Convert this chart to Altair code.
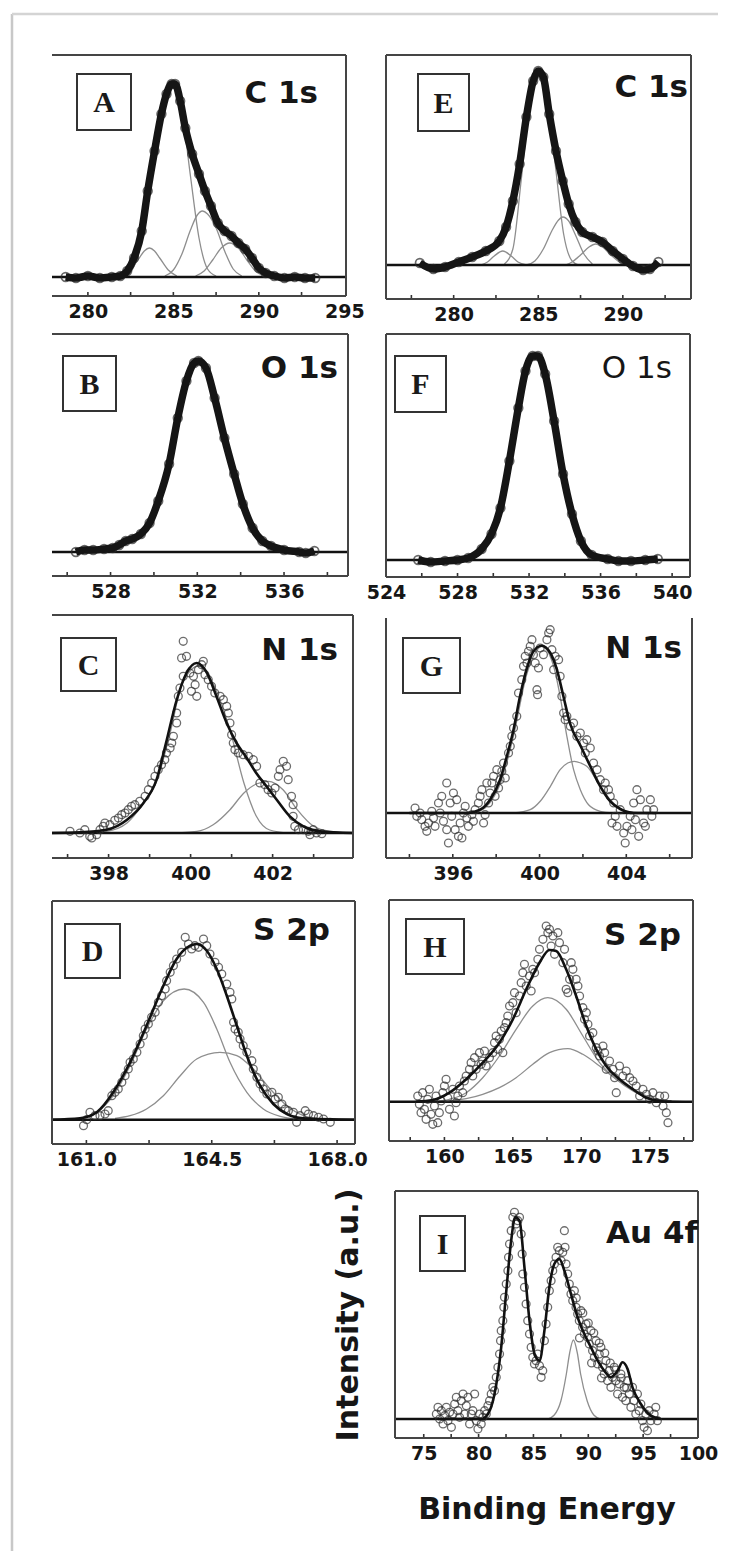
import altair as alt
import pandas as pd

# ---------------- data (energy in eV, intensity in a.u.) ----------------
A_data = [(278.7,19),(279.3,18),(280.0,20),(280.7,18),(281.4,19),(281.9,20),(282.3,25),(282.7,38),(283.15,65),(283.5,105),
          (283.9,145),(284.3,182),(284.6,202),(284.9,212),(285.1,212),(285.4,195),(285.7,168),(286.1,142),(286.5,122),(286.85,105),
          (287.2,90),(287.6,73),(288.0,65),(288.4,60),(288.8,53),(289.2,47),(289.6,38),(290.0,28),(290.4,23),(290.9,20),
          (291.5,18),(292.1,19),(292.7,18),(293.3,18)]
A_comps = [
    [(282.0,20),(282.5,26),(283.0,38),(283.3,45),(283.6,48),(283.9,45),(284.2,38),(284.7,26),(285.2,20)],
    [(282.0,19),(282.5,24),(283.0,45),(283.5,90),(284.0,150),(284.5,198),(285.0,212),(285.5,185),(286.0,120),(286.5,58),(287.0,27),(287.5,20)],
    [(284.5,20),(285.0,26),(285.5,42),(286.0,66),(286.4,81),(286.7,85),(287.0,82),(287.5,68),(288.0,45),(288.5,27),(289.0,20)],
    [(286.3,20),(286.8,25),(287.3,36),(287.8,48),(288.3,53),(288.8,48),(289.3,36),(289.8,25),(290.3,20)],
]

E_data = [(278.0,36),(278.8,30),(279.5,32),(280.3,37),(281.1,42),(281.9,48),(282.7,58),(283.1,72),(283.5,98),(283.9,135),
          (284.3,182),(284.7,218),(285.0,228),(285.3,222),(285.65,185),(286.05,148),(286.45,118),(286.8,95),(287.2,77),(287.6,67),
          (288.2,62),(288.8,57),(289.4,48),(290.0,40),(290.6,33),(291.2,29),(291.6,30),(292.1,37)]
E_comps = [
    [(281.6,34),(282.0,37),(282.4,43),(282.9,48),(283.4,43),(283.8,37),(284.3,34)],
    [(283.0,35),(283.5,50),(284.0,120),(284.5,195),(285.0,228),(285.5,200),(286.0,135),(286.5,65),(287.0,38),(287.4,34)],
    [(284.3,34),(284.8,38),(285.3,50),(285.8,68),(286.2,79),(286.45,82),(286.8,78),(287.2,64),(287.7,45),(288.2,35)],
    [(286.6,34),(287.0,37),(287.5,44),(288.0,52),(288.4,55),(288.8,52),(289.3,44),(289.8,37),(290.4,34)],
]

B_data = [(526.4,24),(526.8,26),(527.2,26),(527.7,27),(528.1,28),(528.4,31),(528.7,35),(529.0,37),(529.4,42),(529.8,53),
          (530.2,75),(530.7,112),(531.1,158),(531.5,195),(531.85,213),(532.05,215),(532.4,208),(532.8,178),(533.25,138),(533.7,102),
          (534.1,72),(534.55,48),(535.0,35),(535.4,30),(536.0,26),(536.7,24),(537.0,23),(537.4,25)]

F_data = [(525.8,17),(526.5,15),(527.3,16),(528.0,17),(528.6,19),(529.35,28),(529.9,43),(530.4,69),(530.9,116),(531.4,169),
          (531.8,206),(532.2,221),(532.5,221),(532.9,203),(533.4,156),(533.9,103),(534.4,63),(534.9,36),(535.5,22),(536.4,18),
          (537.0,16),(537.7,16),(538.5,17),(539.2,18)]

C_fit = [(396.62,25),(397.3,25.7),(397.95,28.3),(398.45,38.3),(398.85,55),(399.17,78.3),(399.4,115),(399.66,158),(399.9,185),(400.15,195),
         (400.4,185),(400.63,161.7),(400.88,135),(401.12,115),(401.37,100),(401.6,85),(401.85,71.7),(402.1,58.3),(402.42,41.7),(402.75,31.7),
         (403.15,26.7),(403.96,25)]
C_comps = [
    [(397.3,25),(397.95,26.7),(398.45,35),(398.85,55),(399.2,80),(399.5,125),(399.8,175),(400.2,192),(400.5,178),(400.96,128),(401.3,75),(401.6,42),(401.93,28),(402.4,25)],
    [(399.5,25),(400.15,26.7),(400.55,33.3),(400.96,48.3),(401.3,65),(401.6,74),(401.9,76.7),(402.26,68),(402.6,48.3),(403.0,31.7),(403.4,26.7),(403.96,25)],
]
C_data = [(397.06,26.7),(397.30,25),(397.42,28.3),(397.54,21.7),(397.59,20),(397.71,23.3),(397.79,28.3),(397.87,31.7),(397.91,35),(398.03,33.3),
          (398.15,37.7),(398.24,40),(398.32,43.3),(398.40,45),(398.48,48.3),(398.56,51.7),(398.64,53.3),(398.76,56.7),(398.89,61.7),(398.97,68.3),
          (399.05,75),(399.13,81.7),(399.21,88.3),(399.29,93.3),(399.37,98.3),(399.41,105),(399.50,110),(399.54,115),(399.58,121.7),(399.66,135),
          (399.66,145),(399.70,161.7),(399.74,170),(399.82,181.7),(399.78,200),(399.82,216.7),(399.90,201.7),(399.98,185),(400.07,181.7),(400.11,173.3),
          (400.02,166.7),(400.15,161.7),(400.19,188.3),(400.27,193.3),(400.31,196.7),(400.35,183.3),(400.43,178.3),(400.51,171.7),(400.59,165),(400.72,161.7),
          (400.80,158.3),(400.88,151.7),(400.92,145),(400.96,135),(401.00,123.3),(401.04,115),(401.08,108.3),(401.16,105),(401.28,103.3),(401.41,101.7),
          (401.53,98.3),(401.61,91.7),(401.69,75),(401.81,73.3),(401.89,68.3),(401.98,65),(402.06,70),(402.14,81.7),(402.18,88.3),(402.26,96.7),
          (402.34,91.7),(402.38,78.3),(402.46,61.7),(402.50,53.3),(402.50,41.7),(402.54,31.7),(402.63,28.3),(402.75,28.3),(402.87,26.7),(402.99,28.3),
          (403.07,25),(403.20,24.3),(402.91,23.3)]

G_fit = [(394.0,45),(396.65,45),(397.26,48.3),(397.72,58.3),(398.18,78.3),(398.49,101.7),(398.8,128.3),(399.1,161.7),(399.42,190),(399.72,206.7),
         (400.1,212.3),(400.5,205),(400.8,188.3),(401.1,161.7),(401.4,135),(401.9,111.7),(402.34,91.7),(402.8,71.7),(403.26,56.7),(403.72,49),
         (404.34,45),(405.4,45)]
G_comps = [
    [(397.0,45),(397.7,55),(398.2,75),(398.8,122),(399.4,183),(399.8,205),(400.1,211.7),(400.65,191.7),(400.95,161.7),(401.26,121.7),(401.57,88.3),(401.88,68.3),(402.26,53.3),(402.8,46.7),(403.4,45)],
    [(398.8,45),(399.57,48.3),(400.03,56.7),(400.5,71.7),(400.95,88.3),(401.3,95),(401.6,96.7),(401.9,95),(402.18,91.7),(402.8,71.7),(403.4,55),(404.0,46.7),(404.8,45)],
]
G_data = [(394.26,50),(394.34,41.7),(394.49,45),(394.57,38.3),(394.72,31.7),(394.80,26.7),(394.88,35),(395.03,46.7),(395.11,40),(395.18,31.7),
          (395.34,55),(395.42,45),(395.49,61.7),(395.57,36.7),(395.72,75),(395.72,28.3),(395.80,15),(395.88,55),(395.95,41.7),(396.03,65),
          (396.11,28.3),(396.18,58.3),(396.26,21.7),(396.34,35),(396.42,20),(396.49,45),(396.57,51.7),(396.65,40),(396.72,31.7),(396.88,43.3),
          (396.95,36.7),(397.03,48.3),(397.18,55),(397.26,61.7),(397.34,68.3),(397.42,35),(397.49,43.3),(397.57,75),(397.65,55),(397.72,65),
          (397.80,75),(397.88,81.7),(397.95,61.7),(398.03,88.3),(398.11,70),(398.18,78.3),(398.26,86.7),(398.34,95),(398.42,80),(398.57,105),
          (398.65,111.7),(398.72,121.7),(398.80,130),(398.95,141.7),(399.03,165),(399.18,178.3),(399.26,191.7),(399.34,201.7),(399.42,195),(399.49,206.7),
          (399.57,211.7),(399.65,218.3),(399.72,203.3),(399.80,195),(399.88,168.3),(399.91,163.3),(399.95,190),(400.03,210),(400.18,203.3),(400.34,218.3),
          (400.42,225),(400.49,228.3),(400.57,208.3),(400.65,188.3),(400.72,201.7),(400.88,198.3),(400.95,181.7),(401.03,161.7),(401.11,145),(401.18,138.3),
          (401.26,141.7),(401.42,131.7),(401.57,135),(401.72,121.7),(401.88,125),(402.03,115),(402.11,105),(402.18,118.3),(402.34,110),(402.49,95),
          (402.65,88.3),(402.80,78.3),(402.95,68.3),(403.03,75),(403.18,68.3),(403.26,61.7),(403.42,55),(403.34,35),(403.49,41.7),(403.57,31.7),
          (403.72,48.3),(403.88,25),(403.95,15),(404.03,31.7),(404.18,41.7),(404.26,28.3),(404.34,55),(404.42,38.3),(404.49,68.3),(404.57,21.7),
          (404.65,58.3),(404.80,35),(404.88,31.7),(404.95,48.3),(405.11,58.3),(405.18,41.7),(405.26,48.3)]

D_fit = [(160.04,24.3),(160.82,25.7),(161.29,31.7),(161.75,51.7),(162.22,81.7),(162.68,118.3),(163.15,158.3),(163.52,185),(163.9,198.3),(164.08,200),
         (164.36,193.3),(164.64,175),(164.92,148.3),(165.2,118.3),(165.48,88.3),(165.85,58.3),(166.22,40),(166.6,30),(167.06,25.7),(168.5,24.3)]
D_comps = [
    [(160.8,25.7),(161.29,31.7),(161.75,48.3),(162.22,78.3),(162.68,115),(163.15,143.3),(163.73,155),(164.27,141.7),(164.64,115),(165.01,81.7),(165.48,51.7),(165.94,35),(166.41,27.7),(166.9,25)],
    [(161.8,25.7),(162.22,28.3),(162.68,35),(163.15,48.3),(163.62,68.3),(164.08,85),(164.73,91.7),(165.2,88.3),(165.66,75),(166.13,55),(166.6,38.3),(167.06,28.3),(167.5,25)],
]
D_data = [(160.92,18.3),(161.01,24.3),(161.10,31.7),(161.24,28.3),(161.38,28.3),(161.52,30),(161.61,33.3),(161.71,48.3),(161.80,51.7),(161.89,55),
          (161.99,61.7),(162.08,68.3),(162.17,75),(162.22,81.7),(162.31,85),(162.41,91.7),(162.50,100),(162.59,108.3),(162.64,115),(162.73,120),
          (162.82,126.7),(162.92,131.7),(163.01,141.7),(163.10,148.3),(163.20,155),(163.24,163.3),(163.34,171.7),(163.43,178.3),(163.52,185),(163.66,191.7),
          (163.76,206.7),(163.85,200),(163.94,195),(164.03,198.3),(164.13,196.7),(164.27,205),(164.36,198.3),(164.45,190),(164.59,181.7),(164.69,176.7),
          (164.78,170),(164.92,160),(165.01,151.7),(165.06,145),(165.11,121.7),(165.15,115),(165.24,111.7),(165.29,105),(165.38,98.3),(165.48,91.7),
          (165.62,83.3),(165.66,75),(165.76,66.7),(165.85,60),(165.94,55),(166.04,50),(166.18,51.7),(166.27,45),(166.36,46.7),(166.46,40),
          (166.55,35),(166.64,33.3),(166.78,31.7),(166.87,21.7),(166.97,28.3),(167.11,33.3),(167.20,30),(167.34,28.3),(167.48,26.7),(167.62,25),
          (167.81,21.7)]

H_fit = [(157.9,39.3),(159.15,41),(160.37,48.3),(161.59,61.7),(162.8,78.3),(164.02,98.3),(165.0,121.7),(165.98,151.7),(166.95,178.3),(167.68,191),
         (168.17,190),(168.9,171.7),(169.63,145),(170.37,115),(171.1,91.7),(171.83,75),(172.8,61.7),(173.78,51.7),(174.76,43.3),(175.73,40),
         (176.6,39.3)]
H_comps = [
    [(159.15,39.3),(160.37,41.7),(161.59,48.3),(162.8,63.3),(164.02,85),(165.24,111.7),(166.46,135),(167.56,143.3),(168.9,131.7),(170.12,105),(171.34,78.3),(172.56,61.7),(173.78,50),(175.0,42.3),(176.22,40),(177.4,39.3)],
    [(159.15,39.3),(160.37,40),(161.59,42.3),(162.8,46.7),(164.02,53.3),(165.24,63.3),(166.46,76.7),(167.68,88.3),(169.02,92.3),(170.12,86.7),(171.34,75),(172.56,61.7),(173.78,51.7),(175.0,44),(176.22,40.7),(177.6,39.3)],
]
H_data = [(158.05,45),(158.17,36.7),(158.29,28.3),(158.41,48.3),(158.54,31.7),(158.66,21.7),(158.78,41.7),(158.90,51.7),(159.02,26.7),(159.15,16.7),
          (159.27,35),(159.39,45),(159.51,18.3),(159.63,28.3),(159.76,40),(159.88,48.3),(160.00,55),(160.12,61.7),(160.24,43.3),(160.37,31.7),
          (160.61,51.7),(160.73,25),(160.85,38.3),(160.98,45),(161.10,55),(161.34,48.3),(161.46,60),(161.59,65),(161.83,71.7),(161.95,78.3),
          (162.07,65),(162.20,83.3),(162.32,71.7),(162.56,88.3),(162.68,76.7),(162.80,80),(162.93,90),(163.05,75),(163.29,83.3),(163.54,88.3),
          (163.66,98.3),(163.78,105),(163.90,91.7),(164.02,101.7),(164.15,110),(164.27,88.3),(164.39,113.3),(164.51,118.3),(164.63,125),(164.76,135),
          (165.00,138.3),(165.12,148.3),(165.24,128.3),(165.49,145),(165.61,158.3),(165.73,168.3),(165.85,176.7),(165.98,155),(166.22,165),(166.34,150),
          (166.46,171.7),(166.59,168.3),(166.83,181.7),(166.95,191.7),(167.20,201.7),(167.44,215),(167.56,208.3),(167.68,211.7),(167.80,195),(167.93,205),
          (168.05,186.7),(168.29,208.3),(168.41,198.3),(168.66,178.3),(168.78,191.7),(168.90,151.7),(169.02,148.3),(169.15,161.7),(169.27,178.3),(169.39,171.7),
          (169.63,161.7),(169.76,155),(169.88,145),(170.12,133.3),(170.24,121.7),(170.37,128.3),(170.49,116.7),(170.61,105),(170.85,108.3),(171.10,93.3),
          (171.22,90),(171.34,85),(171.59,95),(171.71,88.3),(171.83,71.7),(172.07,80),(172.32,71.7),(172.44,63.3),(172.56,48.3),(172.80,75),
          (173.05,65),(173.29,70),(173.54,63.3),(173.78,60),(174.02,55),(174.27,45),(174.51,51.7),(174.76,46.7),(175.00,41.7),(175.24,48.3),
          (175.49,38.3),(175.73,45),(175.98,35),(176.10,45),(176.22,28.3),(176.34,18.3)]

I_fit = [(76.3,19),(80.24,19),(80.85,24),(81.45,44),(82.06,90.7),(82.5,144),(82.97,197.3),(83.33,220.7),(83.73,217.3),(84.18,170.7),
         (84.64,117.3),(85.1,84),(85.55,77.3),(86.0,107.3),(86.45,150.7),(86.9,174),(87.36,179),(87.82,167.3),(88.42,144),(89.03,120.7),
         (89.64,104),(90.24,90.7),(90.85,77.3),(91.45,67.3),(92.06,60.7),(92.67,67.3),(93.12,75.7),(93.58,69),(94.03,50.7),(94.79,34),
         (95.7,22.3),(96.6,19)]
I_comps = [
    [(86.3,19),(86.9,23),(87.5,37),(88.0,64),(88.3,85),(88.64,98),(89.0,85),(89.3,64),(89.9,37),(90.5,23),(91.1,19)],
]
I_data = [(76.15,24),(76.30,30.7),(76.45,19),(76.61,27.3),(76.76,14),(76.91,22.3),(77.06,30.7),(77.21,17.3),(77.36,25.7),(77.52,10.7),
          (77.67,24),(77.82,34),(77.97,40.7),(78.12,27.3),(78.27,20.7),(78.42,37.3),(78.58,44),(78.73,24),(78.88,32.3),(79.03,40.7),
          (79.18,14),(79.33,24),(79.48,27.3),(79.64,44),(79.79,17.3),(79.94,9),(80.09,24),(80.24,14),(80.39,20.7),(80.55,27.3),
          (80.70,24),(80.85,32.3),(81.00,37.3),(81.15,44),(81.30,50.7),(81.45,47.3),(81.61,60.7),(81.76,70.7),(81.91,84),(82.00,97.3),
          (82.06,107.3),(82.21,117.3),(82.30,130.7),(82.36,140.7),(82.52,154),(82.67,167.3),(82.73,180.7),(82.82,194),(82.97,207.3),(83.12,220.7),
          (83.27,225.7),(83.42,214),(83.58,217.3),(83.73,220.7),(83.88,204),(83.97,184),(84.03,164),(84.18,150.7),(84.33,134),(84.48,117.3),
          (84.64,104),(84.79,90.7),(84.94,80.7),(85.09,74),(85.24,77.3),(85.39,84),(85.55,72.3),(85.70,60.7),(85.85,67.3),(86.00,97.3),
          (86.15,114),(86.30,130.7),(86.45,147.3),(86.61,157.3),(86.76,167.3),(86.91,174),(87.06,180.7),(87.21,190.7),(87.36,187.3),(87.52,177.3),
          (87.67,185.7),(87.82,207.3),(87.88,190.7),(87.97,174),(88.12,164),(88.27,154),(88.42,144),(88.58,137.3),(88.73,147.3),(88.88,130.7),
          (89.03,124),(89.18,117.3),(89.33,127.3),(89.48,110.7),(89.64,104),(89.79,114),(89.94,100.7),(90.09,94),(90.24,107.3),(90.39,87.3),
          (90.55,80.7),(90.70,97.3),(90.85,74),(91.00,84),(91.15,90.7),(91.30,70.7),(91.45,64),(91.61,77.3),(91.76,57.3),(91.91,67.3),
          (92.06,50.7),(92.21,60.7),(92.36,70.7),(92.52,57.3),(92.67,44),(92.82,54),(92.97,64),(93.12,40.7),(93.27,50.7),(93.42,37.3),
          (93.58,57.3),(93.73,44),(93.88,30.7),(94.03,50.7),(94.18,37.3),(94.33,24),(94.48,44),(94.64,27.3),(94.79,34),(94.94,17.3),
          (95.09,10.7),(95.24,24),(95.39,7.3),(95.55,27.3),(95.70,17.3),(96.00,24),(96.15,30.7),(96.30,17.3),
          (88.9,140),(89.5,125),(90.0,115),(90.5,105),(91.0,95),(91.5,85),(92.0,75),(92.5,68),(93.0,60),(93.5,50),(89.2,100),(90.3,75),(91.2,60)]

# axis tick labels and inward tick positions
A_labels, A_ticks = [280, 285, 290, 295], [280, 282.5, 285, 287.5, 290, 292.5]
E_labels, E_ticks = [280, 285, 290], [277.5, 280, 282.5, 285, 287.5, 290, 292.5]
B_labels, B_ticks = [528, 532, 536], [526, 528, 530, 532, 534, 536, 538]
F_labels, F_ticks = [524, 528, 532, 536, 540], [526, 528, 530, 532, 534, 536, 538, 540]
C_labels, C_ticks = [398, 400, 402, 404], [397, 398, 399, 400, 401, 402, 403]
G_labels, G_ticks = [396, 400, 404], [394, 396, 398, 400, 402, 404, 406]
D_labels, D_ticks = [161.0, 164.5, 168.0], [161.0, 162.75, 164.5, 166.25, 168.0]
H_labels, H_ticks = [160, 165, 170, 175], [157.5, 160, 162.5, 165, 167.5, 170, 172.5, 175, 177.5]
I_labels, I_ticks = [75, 80, 85, 90, 95, 100], [75, 77.5, 80, 82.5, 85, 87.5, 90, 92.5, 95, 97.5]

SANS = "DejaVu Sans"
INK = "#161616"
FRAME = "#454545"

PANELS = {
    "A": dict(data=A_data, fit=None, comps=A_comps, band=True, base=19, xdom=[277.9, 295.1], w=294, h=241, off=0,
              labels=A_labels, ticks=A_ticks, fmt="d", sides=["top", "right", "bottom"], top0=0,
              box=(25, 19, 79, 75), title="C 1s", tpos=(266, 39), tweight="bold"),
    "E": dict(data=E_data, fit=None, comps=E_comps, band=True, base=34, xdom=[276.0, 294.03], w=305, h=244, off=0,
              labels=E_labels, ticks=E_ticks, fmt="d", sides=["top", "right", "bottom", "left"], top0=0,
              box=(32, 19, 83, 76), title="C 1s", tpos=(302, 33), tweight="bold"),
    "B": dict(data=B_data, fit=None, comps=[], band=True, base=24, xdom=[525.3, 538.95], w=296, h=242, off=0,
              labels=B_labels, ticks=B_ticks, fmt="d", sides=["top", "right", "bottom"], top0=0,
              box=(11, 22, 64, 77), title="O 1s", tpos=(286, 35), tweight="bold"),
    "F": dict(data=F_data, fit=None, comps=[], band=True, base=17, xdom=[524, 541], w=304, h=243, off=0,
              labels=F_labels, ticks=F_ticks, fmt="d", sides=["top", "right", "bottom", "left"], top0=0,
              box=(9, 22, 60, 78), title="O 1s", tpos=(286, 35), tweight="normal"),
    "C": dict(data=C_data, fit=C_fit, comps=C_comps, band=False, base=25, xdom=[396.62, 403.96], w=301, h=243, off=0,
              labels=C_labels, ticks=C_ticks, fmt="d", sides=["top", "right", "bottom"], top0=0,
              box=(9, 23, 64, 76), title="N 1s", tpos=(286, 36), tweight="bold"),
    "G": dict(data=G_data, fit=G_fit, comps=G_comps, band=False, base=45, xdom=[392.92, 407.03], w=306, h=243, off=0,
              labels=G_labels, ticks=G_ticks, fmt="d", sides=["right", "bottom", "left"], top0=3,
              box=(17, 23, 74, 78), title="N 1s", tpos=(296, 34), tweight="bold"),
    "D": dict(data=D_data, fit=D_fit, comps=D_comps, band=False, base=24.3, xdom=[160.04, 168.5], w=303, h=244, off=0,
              labels=D_labels, ticks=D_ticks, fmt=".1f", sides=["top", "right", "bottom", "left"], top0=1,
              box=(13, 24, 68, 78), title="S 2p", tpos=(278, 31), tweight="bold"),
    "H": dict(data=H_data, fit=H_fit, comps=H_comps, band=False, base=39.3, xdom=[155.73, 178.17], w=307, h=241, off=3,
              labels=H_labels, ticks=H_ticks, fmt="d", sides=["top", "right", "bottom", "left"], top0=0,
              box=(17, 19, 75, 74), title="S 2p", tpos=(292, 36), tweight="bold"),
    "I": dict(data=I_data, fit=I_fit, comps=I_comps, band=False, base=19, xdom=[71.56, 100], w=312, h=247, off=9,
              labels=I_labels, ticks=I_ticks, fmt="d", sides=["top", "right", "bottom", "left"], top0=0,
              box=(25, 25, 70, 80), title="Au 4f", tpos=(303, 43), tweight="bold",
              xtitle="Binding Energy", ytitle="Intensity (a.u.)"),
}


def pairs_df(pairs, extra=None):
    df = pd.DataFrame(pairs, columns=["x", "y"])
    if extra:
        for k, v in extra.items():
            df[k] = v
    return df


def build(letter, p, outer_frame=False):
    w, h, off = p["w"], p["h"], p["off"]
    xs = alt.Scale(domain=p["xdom"], nice=False, zero=False)
    ys = alt.Scale(domain=[0, h], nice=False, zero=False)
    ax = dict(values=p["labels"], format=p["fmt"], domain=False, ticks=False, grid=False,
              labelFlush=False, labelOverlap=False, labelPadding=6, labelFont=SANS,
              labelFontWeight="bold", labelFontSize=19, labelColor=INK)
    if p.get("xtitle"):
        xaxis = alt.Axis(title=p["xtitle"], titleFont=SANS, titleFontWeight="bold", titleFontSize=30,
                         titleColor=INK, titleX=off + (w - off) / 2, titleY=71, titleBaseline="middle", **ax)
    else:
        xaxis = alt.Axis(title=None, **ax)
    X = alt.X("x:Q", scale=xs, axis=xaxis)
    if p.get("ytitle"):
        Y = alt.Y("y:Q", scale=ys, axis=alt.Axis(title=p["ytitle"], labels=False, ticks=False, domain=False,
                                                grid=False, titleFont=SANS, titleFontWeight="bold",
                                                titleFontSize=30, titleColor=INK, titleX=-38,
                                                titleY=h / 2, titleBaseline="middle"))
    else:
        Y = alt.Y("y:Q", scale=ys, axis=None)

    one = pd.DataFrame({"k": [0]})
    layers = []

    # fitted component peaks (thin grey)
    if p["comps"]:
        comp_df = pd.concat([pairs_df(c, {"c": i}) for i, c in enumerate(p["comps"])], ignore_index=True)
        layers.append(alt.Chart(comp_df).mark_line(color="#8e8e8e", strokeWidth=1.3, interpolate="monotone")
                      .encode(x=X, y=Y, detail="c:N"))
    # baseline
    layers.append(alt.Chart(pd.DataFrame({"y": [p["base"]]})).mark_rule(color="#111", strokeWidth=2.6)
                  .encode(y=Y, x=alt.value(off), x2=alt.value(w)))
    data_df = pairs_df(p["data"])
    if p["band"]:
        layers.append(alt.Chart(data_df).mark_point(shape="circle", filled=False, size=75, color="#2a2a2a",
                                                    strokeWidth=1.7).encode(x=X, y=Y))
        layers.append(alt.Chart(data_df).mark_line(color="#151515", strokeWidth=7.5, interpolate="monotone")
                      .encode(x=X, y=Y))
    else:
        layers.append(alt.Chart(data_df).mark_point(shape="circle", filled=False, size=62, color="#303030",
                                                    strokeWidth=1.3).encode(x=X, y=Y))
        layers.append(alt.Chart(pairs_df(p["fit"])).mark_line(color="#111", strokeWidth=2.6, interpolate="monotone")
                      .encode(x=X, y=Y))
    # inward ticks
    layers.append(alt.Chart(pd.DataFrame({"x": p["ticks"]})).mark_rule(color="#333", strokeWidth=1.6)
                  .encode(x=X, y=alt.value(h - 4), y2=alt.value(h)))
    # frame
    for s in p["sides"]:
        if s == "top":
            enc = dict(x=alt.value(off), x2=alt.value(w), y=alt.value(p["top0"]))
        elif s == "bottom":
            enc = dict(x=alt.value(off), x2=alt.value(w), y=alt.value(h))
        elif s == "left":
            enc = dict(x=alt.value(off), y=alt.value(p["top0"]), y2=alt.value(h))
        else:
            enc = dict(x=alt.value(w), y=alt.value(p["top0"]), y2=alt.value(h))
        layers.append(alt.Chart(one).mark_rule(color=FRAME, strokeWidth=2).encode(**enc))
    # panel letter in a box
    bx0, by0, bx1, by1 = p["box"]
    layers.append(alt.Chart(one).mark_rect(fill="white", stroke="#333", strokeWidth=2)
                  .encode(x=alt.value(off + bx0), x2=alt.value(off + bx1), y=alt.value(by0), y2=alt.value(by1)))
    layers.append(alt.Chart(one).mark_text(text=letter, font="Liberation Serif", fontWeight="bold", fontSize=30,
                                           color="#1a1a1a", align="center", baseline="middle", dy=1)
                  .encode(x=alt.value(off + (bx0 + bx1) / 2), y=alt.value((by0 + by1) / 2)))
    # core-level label
    tx, ty = p["tpos"]
    layers.append(alt.Chart(one).mark_text(text=p["title"], font=SANS, fontWeight=p["tweight"], fontSize=31,
                                           color=INK, align="right", baseline="middle")
                  .encode(x=alt.value(off + tx), y=alt.value(ty)))
    if outer_frame:
        layers.append(alt.Chart(one).mark_rule(color="#c8c8c8", strokeWidth=2.5)
                      .encode(x=alt.value(-40), y=alt.value(-41), y2=alt.value(1496)))
        layers.append(alt.Chart(one).mark_rule(color="#d4d4d4", strokeWidth=2.5)
                      .encode(x=alt.value(-40), x2=alt.value(666), y=alt.value(-41)))
    return alt.layer(*layers).properties(width=w, height=h)


def spacer(hgt):
    return (alt.Chart(pd.DataFrame({"k": [0]})).mark_point(opacity=0)
            .encode(x=alt.value(0), y=alt.value(0)).properties(width=1, height=hgt))


cells = [
    build("A", PANELS["A"], outer_frame=True), build("E", PANELS["E"]),
    spacer(35), spacer(35),
    build("B", PANELS["B"]), build("F", PANELS["F"]),
    spacer(38), spacer(38),
    build("C", PANELS["C"]), build("G", PANELS["G"]),
    spacer(42), spacer(42),
    build("D", PANELS["D"]), build("H", PANELS["H"]),
    spacer(47), spacer(47),
    spacer(10), build("I", PANELS["I"]),
]

chart = (alt.concat(*cells, columns=2, spacing={"row": 0, "column": 31}, bounds="flush", align="each")
         .properties(padding={"left": 2, "top": 4, "right": 2, "bottom": 2})
         .configure_view(strokeWidth=0)
         .configure_axis(grid=False))

chart.save("out.html", embed_options={"renderer": "svg", "actions": False})
